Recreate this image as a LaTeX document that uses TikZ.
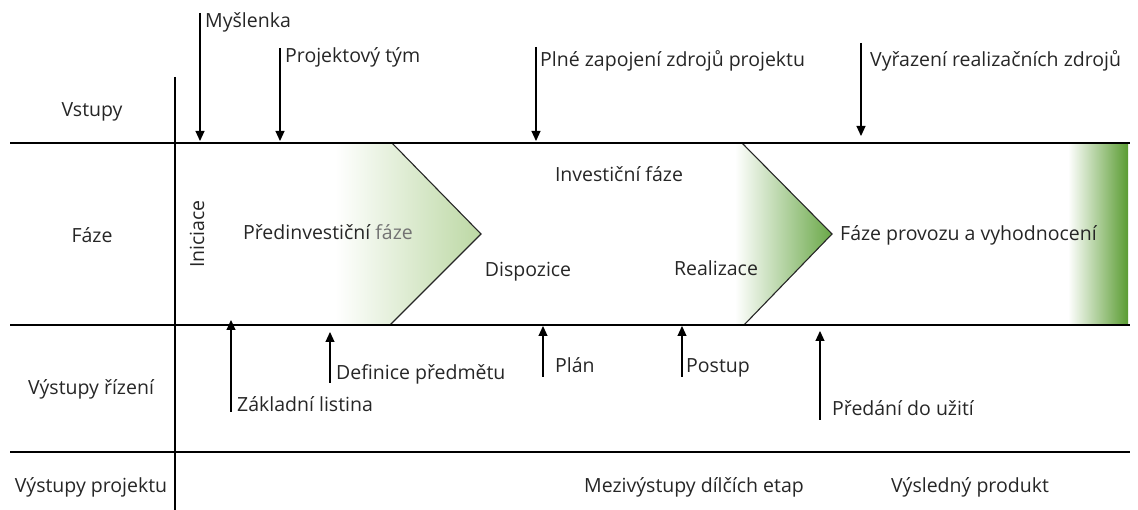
\documentclass[tikz,border=0pt]{standalone}
\usepackage{fontspec}
\setmainfont{Open Sans}
\usetikzlibrary{arrows.meta}
\definecolor{txt}{HTML}{262626}
\definecolor{gA}{HTML}{BCD8A4}
\definecolor{gB}{HTML}{6AA848}
\definecolor{gC}{HTML}{5A9C32}
\begin{document}
\begin{tikzpicture}[x=1pt,y=-1pt,
  font=\fontsize{19.5}{23}\selectfont, text=txt,
  lbl/.style={inner sep=0pt, anchor=base west},
  clbl/.style={inner sep=0pt, anchor=base},
  arr/.style={draw=black, line width=1.1pt, -{Triangle[length=10pt,width=9pt]}},
  rule/.style={draw=black, line width=2.4pt},
  chev/.style={draw=black!85, line width=1.1pt}]
\useasboundingbox (0,0) rectangle (1138,510);

% shadings
\shade[left color=white, right color=gA] (335,143) -- (392,143) -- (481,234) -- (390,325) -- (335,325) -- cycle;
\shade[left color=white, right color=gB] (735,143) -- (742,143) -- (832,234) -- (744,325) -- (735,325) -- cycle;
\shade[left color=white, right color=gC] (1068,143) rectangle (1128,325);

% chevron outlines
\coordinate (c1t) at (392,143); \coordinate (c1p) at (481,234); \coordinate (c1b) at (390,325);
\coordinate (c2t) at (742,143); \coordinate (c2p) at (832,234); \coordinate (c2b) at (744,325);
\draw[chev] (c1t) -- (c1p) -- (c1b);
\draw[chev] (c2t) -- (c2p) -- (c2b);

% grid rules
\coordinate (h1l) at (10,143); \coordinate (h1r) at (1130,143);
\coordinate (h2l) at (10,325); \coordinate (h2r) at (1130,325);
\coordinate (h3l) at (10,452); \coordinate (h3r) at (1130,452);
\coordinate (vt) at (175,77); \coordinate (vb) at (175,510);
\draw[rule] (h1l) -- (h1r);
\draw[rule] (h2l) -- (h2r);
\draw[rule] (h3l) -- (h3r);
\draw[rule] (vt) -- (vb);

% row titles
\node[clbl] (vstupy) at (92,117) {Vstupy};
\node[clbl] (faze) at (92,243) {Fáze};
\node[clbl] (vrizeni) at (91,395) {Výstupy řízení};
\node[clbl] (vprojektu) at (91,492) {Výstupy projektu};

% inputs (down arrows)
\coordinate (a1s) at (200,13);  \coordinate (a1e) at (200,141);
\coordinate (a2s) at (280,48);  \coordinate (a2e) at (280,141);
\coordinate (a3s) at (536,47);  \coordinate (a3e) at (536,141);
\coordinate (a4s) at (861,43);  \coordinate (a4e) at (861,136);
\draw[arr] (a1s) -- (a1e);
\draw[arr] (a2s) -- (a2e);
\draw[arr] (a3s) -- (a3e);
\draw[arr] (a4s) -- (a4e);
\node[lbl] (myslenka) at (205,28) {Myšlenka};
\node[lbl] (tym) at (285,63) {Projektový tým};
\node[lbl] (zapojeni) at (540,67) {Plné zapojení zdrojů projektu};
\node[lbl] (vyrazeni) at (870,67) {Vyřazení realizačních zdrojů};

% phases
\node[inner sep=0pt, rotate=90] (iniciace) at (197,234) {Iniciace};
\node[clbl] (predinv) at (328,240) {Předinvestiční \textcolor{black!55}{fáze}};
\node[clbl] (invest) at (619,182) {Investiční fáze};
\node[clbl] (dispozice) at (528,277) {Dispozice};
\node[clbl] (realizace) at (716,276) {Realizace};
\node[lbl] (provoz) at (840,241) {Fáze provozu a vyhodnocení};

% management outputs (up arrows)
\coordinate (b1s) at (231,412); \coordinate (b1e) at (231,320);
\coordinate (b2s) at (330,383); \coordinate (b2e) at (330,332);
\coordinate (b3s) at (543,377); \coordinate (b3e) at (543,326);
\coordinate (b4s) at (682,377); \coordinate (b4e) at (682,326);
\coordinate (b5s) at (820,420); \coordinate (b5e) at (820,331);
\draw[arr] (b1s) -- (b1e);
\draw[arr] (b2s) -- (b2e);
\draw[arr] (b3s) -- (b3e);
\draw[arr] (b4s) -- (b4e);
\draw[arr] (b5s) -- (b5e);
\node[lbl] (listina) at (237,412) {Základní listina};
\node[lbl] (definice) at (336,380) {Definice předmětu};
\node[lbl] (plan) at (555,373) {Plán};
\node[lbl] (postup) at (686,373) {Postup};
\node[lbl] (predani) at (832,416) {Předání do užití};

% project outputs
\node[clbl] (mezi) at (694,492) {Mezivýstupy dílčích etap};
\node[clbl] (produkt) at (970,492) {Výsledný produkt};
\end{tikzpicture}
\end{document}
